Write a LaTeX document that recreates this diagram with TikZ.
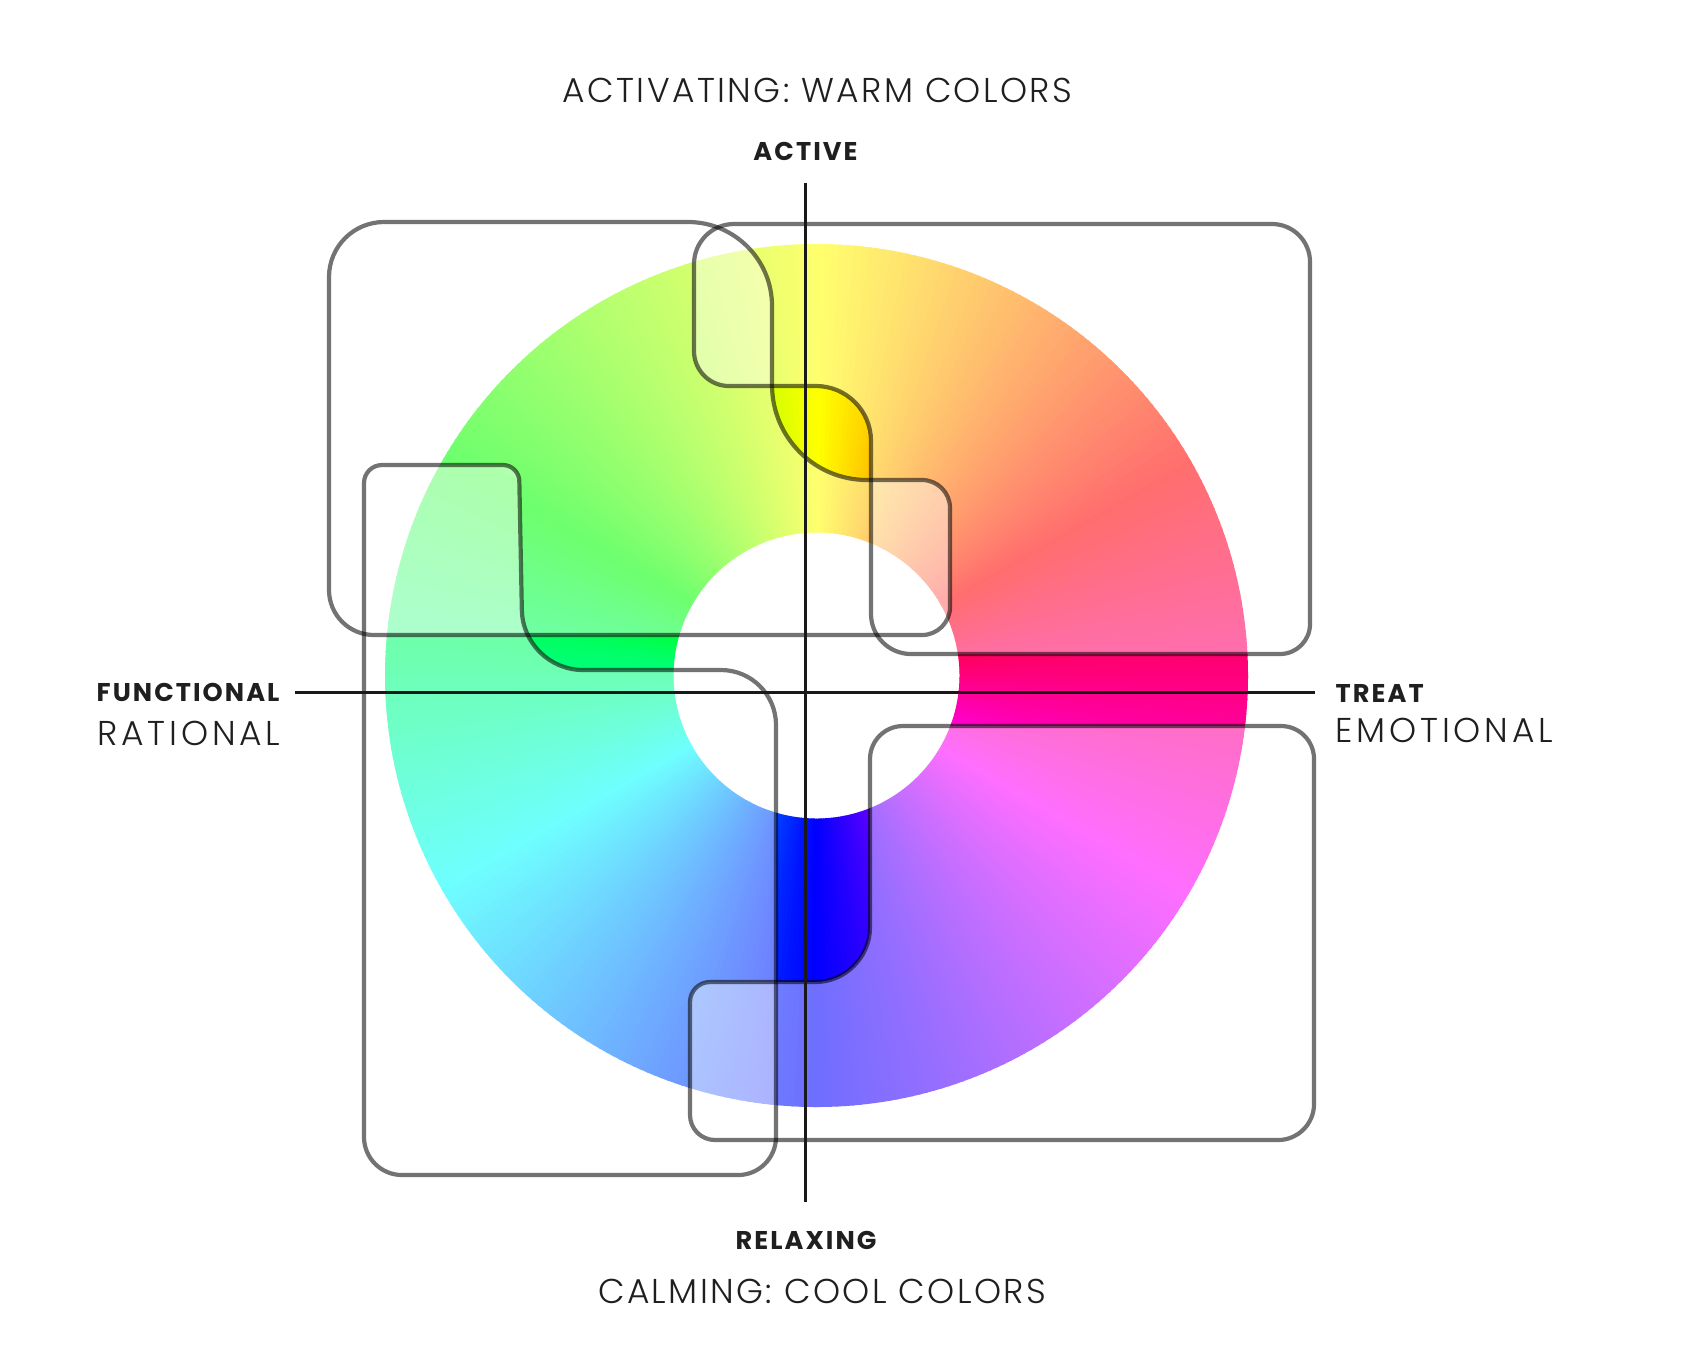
\documentclass[tikz,border=0pt]{standalone}
\usepackage{fontspec}
\IfFontExistsTF{Poppins Light}{%
  \newfontfamily\lightf{Poppins Light}[LetterSpace=7]%
  \newfontfamily\lightw{Poppins Light}[LetterSpace=11]}{%
  \newfontfamily\lightf{Poppins}[LetterSpace=7]%
  \newfontfamily\lightw{Poppins}[LetterSpace=11]}
\newfontfamily\boldf{Poppins}[LetterSpace=8]
\begin{document}
\begin{tikzpicture}[x=0.1mm,y=-0.1mm,
  outl/.style={draw=black, draw opacity=0.55, line width=0.42mm, line join=round},
  veil/.style={fill=white, fill opacity=0.43},
  axisline/.style={draw=black!90, line width=0.3mm},
  lt/.style={inner sep=0pt, text=black!88, font=\lightf\fontsize{9.8}{11}\selectfont},
  ltw/.style={inner sep=0pt, text=black!88, font=\lightw\fontsize{9.8}{11}\selectfont},
  bt/.style={inner sep=0pt, text=black!88, font=\boldf\bfseries\fontsize{7.3}{9}\selectfont}]
\useasboundingbox (0,0) rectangle (1700,1361);
% colour ring
\begin{scope}[shift={(816.5,675.5)}]
\foreach \a in {0,...,359}{
  \pgfmathsetmacro\h{mod(690-\a,360)}
  \pgfmathsetmacro\b{\a+1.3}
  \definecolor{hc}{Hsb}{\h,1,1}
  \fill[hc] (\a:431.5) arc[start angle=\a, end angle=\b, radius=431.5] -- (\b:143) arc[start angle=\b, end angle=\a, radius=143] -- cycle;
}
\end{scope}
% shapes
\def\pathA{(550,222) [rounded corners=8.4mm] -- (772,222) [rounded corners=9.5mm] -- (772,480) [rounded corners=2.8mm] -- (950,480) [rounded corners=2.8mm] -- (950,635) [rounded corners=4.5mm] -- (329,635) [rounded corners=5.5mm] -- (329,222) -- cycle}
\def\pathB{(1000,224) [rounded corners=3.8mm] -- (1310,224) [rounded corners=3mm] -- (1310,654) [rounded corners=4mm] -- (871,654) [rounded corners=5.5mm] -- (871,386) [rounded corners=3.5mm] -- (694,386) [rounded corners=4mm] -- (694,224) -- cycle}
\def\pathC{(364,800) [rounded corners=1.8mm] -- (364,465) [rounded corners=1.6mm] -- (519,465) [rounded corners=6mm] -- (523,670) [rounded corners=5.5mm] -- (776,670) [rounded corners=3.8mm] -- (776,1175) [rounded corners=3.8mm] -- (364,1175) -- cycle}
\def\pathD{(1100,726) [rounded corners=3.3mm] -- (1314,726) [rounded corners=3.6mm] -- (1314,1140) [rounded corners=2.5mm] -- (690,1140) [rounded corners=2mm] -- (690,982) [rounded corners=5.5mm] -- (870,982) [rounded corners=3.3mm] -- (870,726) -- cycle}
\path[veil] \pathA;
\path[veil] \pathB;
\path[veil] \pathC;
\path[veil] \pathD;
\path[outl] \pathA;
\path[outl] \pathB;
\path[outl] \pathC;
\path[outl] \pathD;
% axes
\coordinate (vt) at (805,183);
\coordinate (vb) at (805,1202);
\coordinate (hl) at (295,692);
\coordinate (hr) at (1315,692);
\draw[axisline] (vt) -- (vb);
\draw[axisline] (hl) -- (hr);
% labels
\node[lt, anchor=base] (warm) at (817.5,102) {ACTIVATING: WARM COLORS};
\node[bt, anchor=base] (active) at (805.5,160) {ACTIVE};
\node[bt, anchor=base west] (func) at (96,701) {FUNCTIONAL};
\node[ltw, anchor=base west] (rat) at (97,745) {RATIONAL};
\node[bt, anchor=base west] (treat) at (1335,702) {TREAT};
\node[ltw, anchor=base west] (emo) at (1335,742) {EMOTIONAL};
\node[bt, anchor=base] (relax) at (806,1249) {RELAXING};
\node[lt, anchor=base] (cool) at (822,1303) {CALMING: COOL COLORS};
\end{tikzpicture}
\end{document}
